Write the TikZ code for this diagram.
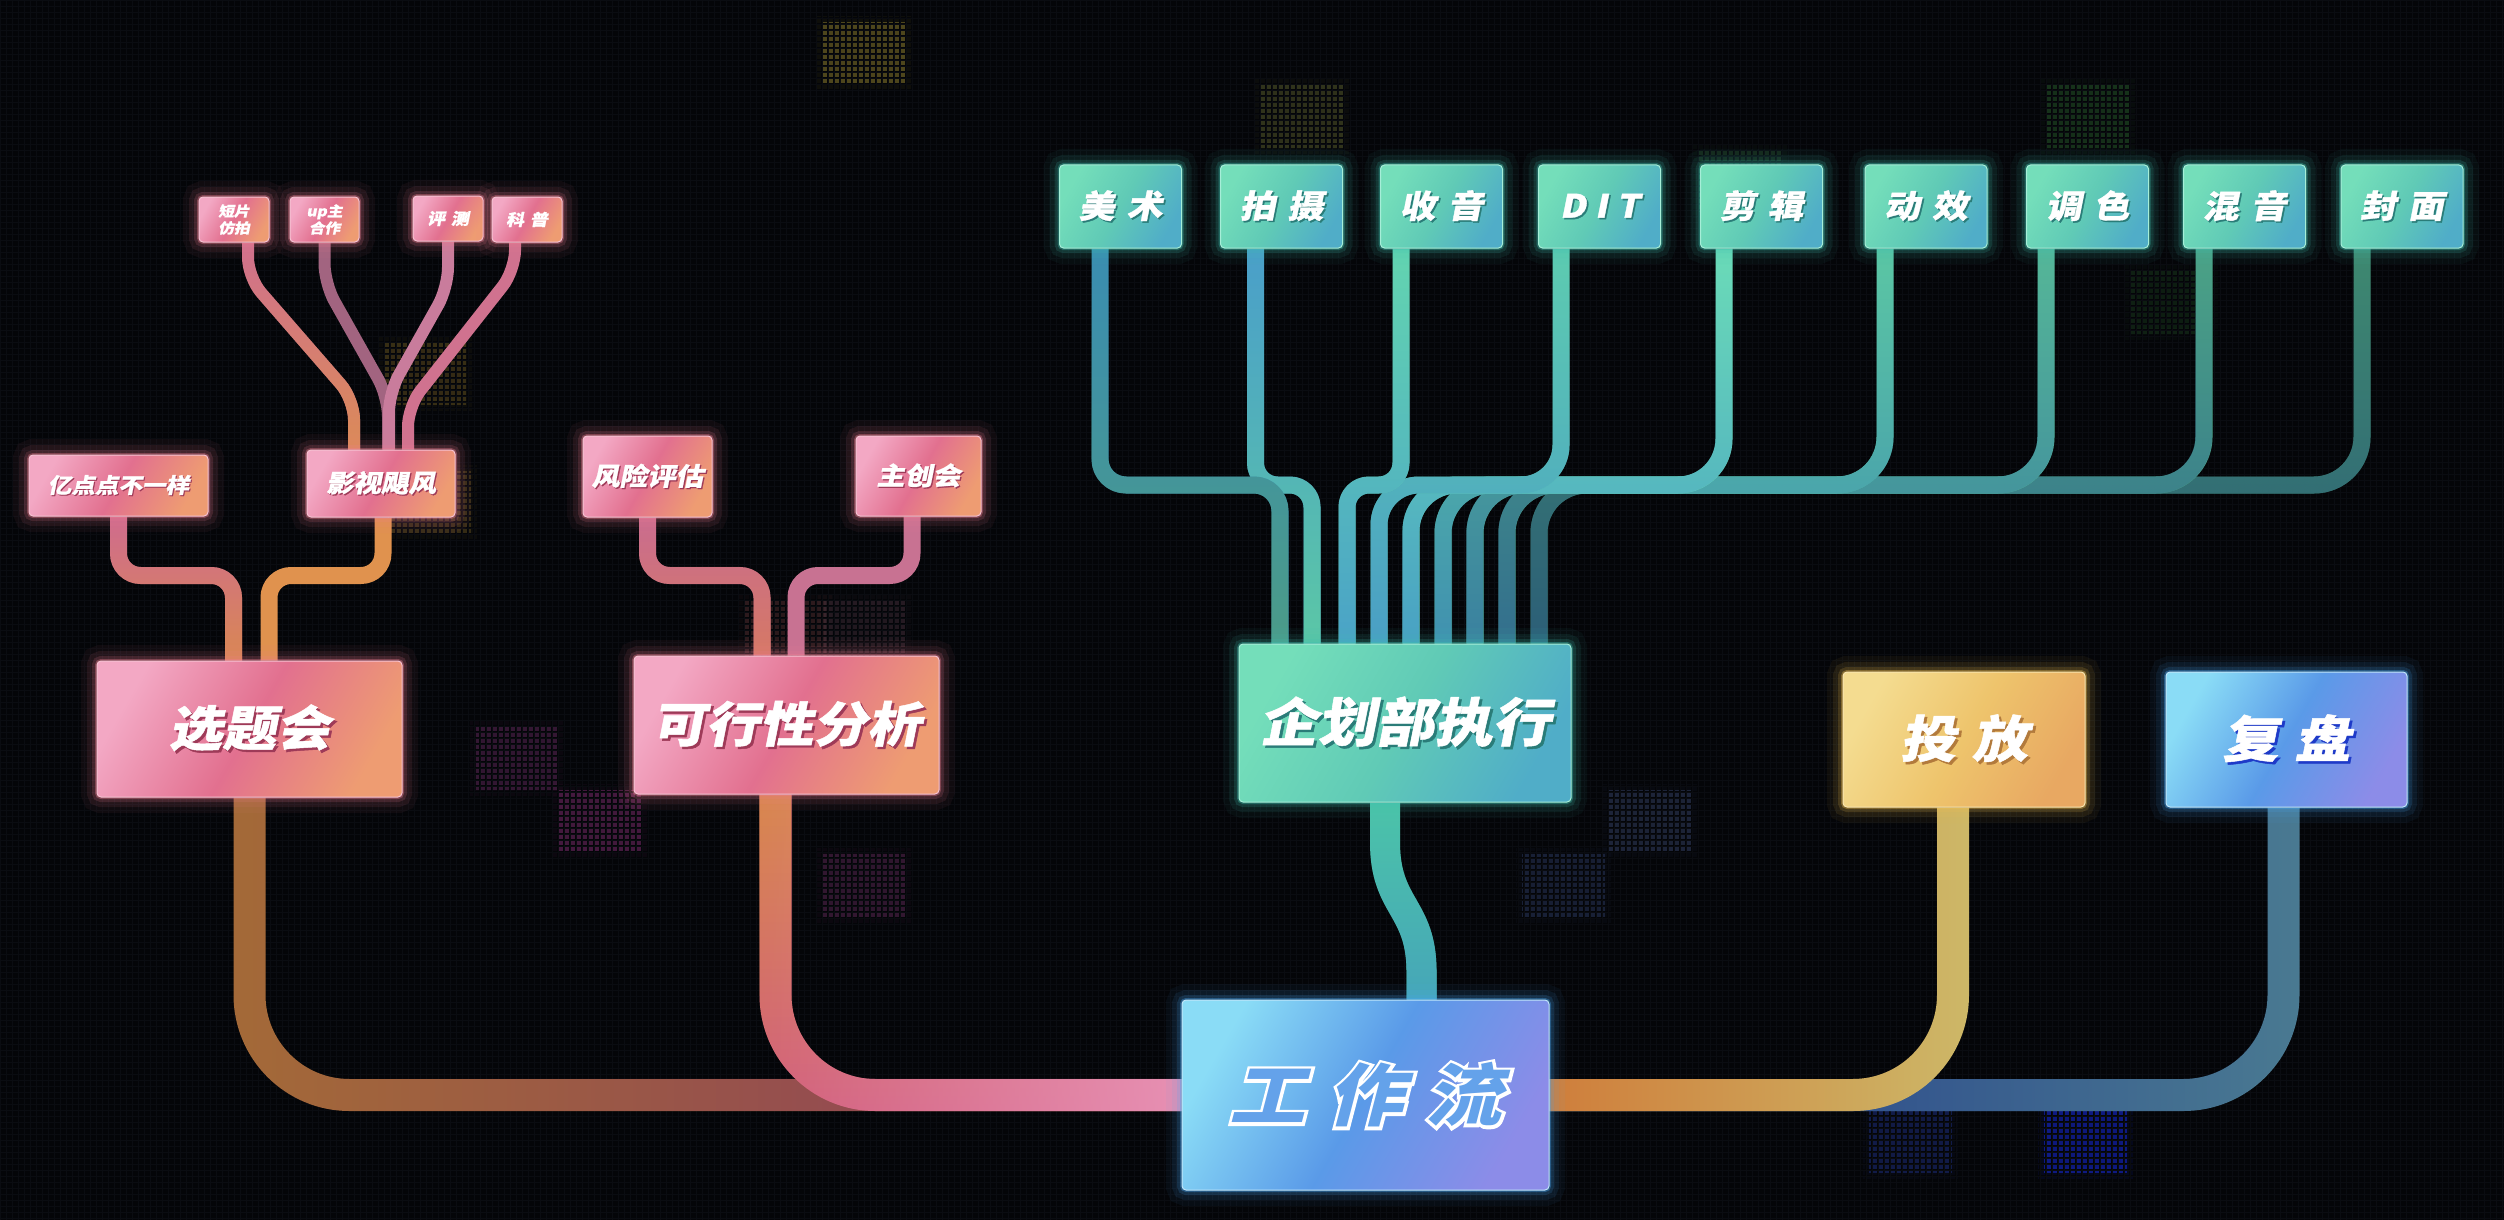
\documentclass[tikz,border=0pt]{standalone}
\usepackage{fontspec}
\usetikzlibrary{fadings}
\newfontfamily\cjk{Noto Sans CJK SC}[FakeSlant=0.2,FakeStretch=1.12,FakeBold=1]
\newfontfamily\cjkO{Noto Sans CJK SC}[FakeSlant=0.26,FakeStretch=1.12,FakeBold=9]
\newfontfamily\cjkI{Noto Sans CJK SC}[FakeSlant=0.26,FakeStretch=1.12]

\definecolor{bgc}{HTML}{040508}
\definecolor{gridc}{HTML}{0A0C11}
\definecolor{pkA}{HTML}{F3A8C4}
\definecolor{pkB}{HTML}{E2708F}
\definecolor{pkC}{HTML}{EE9C72}
\definecolor{pkE}{HTML}{F6C2D2}
\definecolor{pkG}{HTML}{F07E92}
\definecolor{pkS}{HTML}{9E3A58}
\definecolor{tlA}{HTML}{74DEBA}
\definecolor{tlB}{HTML}{60CAB6}
\definecolor{tlC}{HTML}{50ADC8}
\definecolor{tlE}{HTML}{A6EED8}
\definecolor{tlG}{HTML}{3FC2B2}
\definecolor{tlS}{HTML}{2A7C78}
\definecolor{ylA}{HTML}{F4DC90}
\definecolor{ylB}{HTML}{EEC46C}
\definecolor{ylC}{HTML}{E8A862}
\definecolor{ylE}{HTML}{FAE6B0}
\definecolor{ylG}{HTML}{F2C050}
\definecolor{ylS}{HTML}{B27A3C}
\definecolor{blA}{HTML}{8ADCF6}
\definecolor{blB}{HTML}{5A9AE8}
\definecolor{blC}{HTML}{8C8CE8}
\definecolor{blE}{HTML}{C0E6FA}
\definecolor{blG}{HTML}{48A8F4}
\definecolor{blS}{HTML}{1E3AC8}
\definecolor{gzIn}{HTML}{64A2EA}
% wires
\definecolor{wXtA}{HTML}{A46A38}
\definecolor{wXtB}{HTML}{8C3C5E}
\definecolor{wKxA}{HTML}{D2607C}
\definecolor{wKxT}{HTML}{D98A4C}
\definecolor{wKxR}{HTML}{E892B6}
\definecolor{wTfA}{HTML}{CDB868}
\definecolor{wTfL}{HTML}{D07C3A}
\definecolor{wFpA}{HTML}{4A7A92}
\definecolor{wFpL}{HTML}{22388A}
\definecolor{wQhA}{HTML}{4CC6A8}
\definecolor{wQhB}{HTML}{46A4BA}
\definecolor{wYdA}{HTML}{CF6A92}
\definecolor{wYdB}{HTML}{DA8A50}
\definecolor{wYs}{HTML}{E0924E}
\definecolor{wFxA}{HTML}{C96C92}
\definecolor{wFxB}{HTML}{D77A62}
\definecolor{wZc}{HTML}{C87292}
\definecolor{wDpA}{HTML}{D07090}
\definecolor{wDpB}{HTML}{DC8C56}
\definecolor{wUp}{HTML}{A26480}
\definecolor{wPc}{HTML}{C97C9C}
\definecolor{wKp}{HTML}{D0728F}
\definecolor{t1a}{HTML}{3A8DB2}\definecolor{t1b}{HTML}{4C9C88}
\definecolor{t2a}{HTML}{4A9ECB}\definecolor{t2b}{HTML}{5CC8A6}
\definecolor{t3a}{HTML}{64D6B0}\definecolor{t3b}{HTML}{4AA2C8}
\definecolor{t4a}{HTML}{5ECDB0}\definecolor{t4b}{HTML}{4A9EC6}
\definecolor{t5a}{HTML}{6CDDB8}\definecolor{t5b}{HTML}{48A0C4}
\definecolor{t6a}{HTML}{5CC8A4}\definecolor{t6b}{HTML}{4090B0}
\definecolor{t7a}{HTML}{56B898}\definecolor{t7b}{HTML}{3A80A0}
\definecolor{t8a}{HTML}{4CA486}\definecolor{t8b}{HTML}{336E8E}
\definecolor{t9a}{HTML}{3F8A70}\definecolor{t9b}{HTML}{2C5E78}

\pgfdeclarelayer{bglayer}
\pgfdeclarelayer{linelayer}
\pgfsetlayers{bglayer,linelayer,main}

\tikzfading[name=fadeinR, left color=transparent!100, right color=transparent!0]
\tikzfading[name=fadeinL, left color=transparent!0, right color=transparent!100]
\tikzfading[name=fadeinB, top color=transparent!100, bottom color=transparent!0]
\tikzfading[name=fadeinT, top color=transparent!0, bottom color=transparent!100]

\newcommand\shd[2]{\leavevmode\rlap{\kern0.05em\raisebox{-0.05em}{\textcolor{#1}{#2}}}#2}
\newcommand\fsz[1]{\fontsize{#1}{#1}\selectfont}
\newcommand\twire[6]{%
  \coordinate (tA) at ([xshift=#2pt]#1.south);
  \coordinate (tB) at ([xshift=#3pt]qh.north);
  \draw[wire=17pt, #4, rounded corners=#6pt] (tA) -- (tA |- bus) -| (tB);
  \draw[wire=17pt, #5, rounded corners=#6pt, path fading=fadeinB] (tA) -- (tA |- bus) -| (tB);
}

\begin{document}
\begin{tikzpicture}[x=1pt,y=-1pt,
  box/.style={rounded corners=4pt, inner sep=0pt, align=center, text=white, font=\cjk\bfseries, line width=1pt},
  glow/.style={preaction={draw=#1,draw opacity=0.05,line width=32pt},
               preaction={draw=#1,draw opacity=0.09,line width=20pt},
               preaction={draw=#1,draw opacity=0.16,line width=10pt},
               preaction={draw=#1,draw opacity=0.35,line width=4pt}},
  pinkbox/.style={box, glow=pkG, draw=pkE, left color=pkA, right color=pkC, middle color=pkB, shading angle=60},
  tealbox/.style={box, glow=tlG, draw=tlE, left color=tlA, right color=tlC, middle color=tlB, shading angle=60},
  yellowbox/.style={box, glow=ylG, draw=ylE, left color=ylA, right color=ylC, middle color=ylB, shading angle=60},
  bluebox/.style={box, glow=blG, draw=blE, left color=blA, right color=blC, middle color=blB, shading angle=60},
  wire/.style={line width=#1, line cap=butt, line join=round}
]
\useasboundingbox (0,0) rectangle (2504,1220);

\begin{pgfonlayer}{bglayer}
  \fill[bgc] (0,0) rectangle (2504,1220);
  \foreach \x/\y/\c/\o in {822/22/6A5E24/0.7, 1260/85/4A4E26/0.6, 2046/85/245228/0.55,
      1698/149/224428/0.45, 383/342/5C4A1E/0.55, 388/471/5C4A1E/0.5, 743/599/4A2A2C/0.55,
      824/599/46303C/0.45, 476/727/4A2048/0.65, 559/790/5C2252/0.7, 822/854/4C2248/0.6,
      1608/790/2A3450/0.65, 1522/854/243050/0.6, 1869/1110/182666/0.65, 2044/1110/1426C8/0.6,
      2129/271/1A3C1E/0.45} {
    \definecolor{sqc}{HTML}{\c}
    \fill[sqc, opacity=\o, preaction={draw=sqc, draw opacity=0.10, line width=12pt}] (\x,\y) rectangle ++(83,63);
  }
  \draw[bgc, line width=2.6pt] (0,0) grid[step=6pt] (2504,1220);
  \draw[gridc, line width=0.6pt, step=6pt] (0,0) grid[step=6pt] (2504,1220);
\end{pgfonlayer}

% ---------- nodes ----------
\node[pinkbox, minimum width=179pt, minimum height=61pt] (yd) at (118.5,485.5) {\fsz{21}\shd{pkS}{亿点点不一样}};
\node[pinkbox, minimum width=148pt, minimum height=67pt] (ys) at (381,483.5) {\fsz{24.5}\shd{pkS}{影视飓风}};
\node[pinkbox, minimum width=70pt, minimum height=45pt, font=\cjk\bfseries\fontsize{14}{17}\selectfont] (dp) at (234,219.5) {短片\\仿拍};
\node[pinkbox, minimum width=69pt, minimum height=45pt, font=\cjk\bfseries\fontsize{14}{17}\selectfont] (up) at (324.5,219.5) {up主\\合作};
\node[pinkbox, minimum width=70pt, minimum height=45pt] (pc) at (448,218.5) {\fsz{16}评\kern6pt测};
\node[pinkbox, minimum width=70pt, minimum height=45pt] (kp) at (527,219.5) {\fsz{16}科\kern6pt普};
\node[pinkbox, minimum width=129pt, minimum height=81pt] (fx) at (647.5,476.5) {\fsz{25}\shd{pkS}{风险评估}};
\node[pinkbox, minimum width=125pt, minimum height=80pt] (zc) at (918.5,476) {\fsz{25}\shd{pkS}{主创会}};
\node[pinkbox, minimum width=305pt, minimum height=136pt] (xt) at (249.5,729) {\fsz{48}\shd{pkS}{选题会}};
\node[pinkbox, minimum width=305pt, minimum height=138pt] (kx) at (786.5,725) {\fsz{48}\shd{pkS}{可行性分析}};
\node[tealbox, minimum width=332pt, minimum height=158pt] (qh) at (1405,723) {\fsz{52}\shd{tlS}{企划部执行}};
\node[yellowbox, minimum width=242pt, minimum height=135pt] (tf) at (1964,739.5) {\fsz{50}\shd{ylS}{投\kern16pt放}};
\node[bluebox, minimum width=241pt, minimum height=135pt] (fp) at (2286.5,739.5) {\fsz{50}\shd{blS}{复\kern16pt盘}};
\node[bluebox, minimum width=367pt, minimum height=190pt] (gzl) at (1365.5,1095)
  {\fsz{68}\rlap{\cjkO 工\kern22pt作\kern22pt流}\textcolor{gzIn}{\cjkI 工\kern22pt作\kern22pt流}};

\foreach \n/\cx/\t in {ms/1120.5/美\kern12pt术, ps/1281.5/拍\kern12pt摄, sy/1441.5/收\kern12pt音,
    dit/1599.5/D\kern9pt I\kern9pt T, jj/1761.5/剪\kern12pt辑, dx/1926/动\kern12pt效,
    ts/2087.5/调\kern12pt色, hy/2244.5/混\kern12pt音, fm/2402/封\kern12pt面} {
  \node[tealbox, minimum width=122pt, minimum height=83pt] (\n) at (\cx,206.5) {\fsz{32}\shd{tlS}{\t}};
}

% ---------- connectors ----------
\begin{pgfonlayer}{linelayer}
  \coordinate (bus) at (0,485);
  % 选题会 -> 工作流
  \draw[wire=32pt, wXtA, rounded corners=100pt] (xt.south) |- (gzl.west);
  \draw[wire=32pt, wXtB, rounded corners=100pt, path fading=fadeinR] (xt.south) |- (gzl.west);
  % 可行性分析 -> 工作流
  \draw[wire=32pt, wKxA, rounded corners=100pt] ([xshift=-11pt]kx.south) |- (gzl.west);
  \draw[wire=32pt, wKxT, rounded corners=100pt, path fading=fadeinT] ([xshift=-11pt]kx.south) |- (gzl.west);
  \draw[wire=32pt, wKxR, rounded corners=100pt, path fading=fadeinR] ([xshift=-11pt]kx.south) |- (gzl.west);
  % 工作流 -> 复盘
  \draw[wire=32pt, wFpA, rounded corners=100pt] (gzl.east) -| ([xshift=-3pt]fp.south);
  \draw[wire=32pt, wFpL, rounded corners=100pt, path fading=fadeinL] (gzl.east) -| ([xshift=-3pt]fp.south);
  % 工作流 -> 投放
  \draw[wire=32pt, wTfA, rounded corners=100pt] (gzl.east) -| ([xshift=-11pt]tf.south);
  \draw[wire=32pt, wTfL, rounded corners=100pt, path fading=fadeinL] (gzl.east) -| ([xshift=-11pt]tf.south);
  % 企划部执行 -> 工作流
  \draw[wire=30pt, wQhA] ([xshift=-20pt]qh.south) -- ++(0,40) .. controls +(0,65) and +(0,-65) .. ([xshift=56pt,yshift=28pt]gzl.north) -- ([xshift=56pt]gzl.north);
  \draw[wire=30pt, wQhB, path fading=fadeinB] ([xshift=-20pt]qh.south) -- ++(0,40) .. controls +(0,65) and +(0,-65) .. ([xshift=56pt,yshift=28pt]gzl.north) -- ([xshift=56pt]gzl.north);
  % top teal wires
  \twire{fm}{-40}{134}{t9a}{t9b}{48}
  \twire{hy}{-40.5}{102}{t8a}{t8b}{48}
  \twire{ts}{-41.5}{70}{t7a}{t7b}{48}
  \twire{dx}{-41}{38}{t6a}{t6b}{48}
  \twire{jj}{-37.5}{6}{t5a}{t5b}{46}
  \twire{dit}{-38.5}{-26}{t4a}{t4b}{40}
  \twire{sy}{-40.5}{-58}{t3a}{t3b}{22}
  \twire{ps}{-26}{-93}{t2a}{t2b}{22}
  \twire{ms}{-20.5}{-125}{t1a}{t1b}{26}
  % 选题会 upper
  \draw[wire=17pt, wYdA, rounded corners=22pt] (yd.south) -- ++(0,59) -| ([xshift=-16pt]xt.north);
  \draw[wire=17pt, wYdB, rounded corners=22pt, path fading=fadeinB] (yd.south) -- ++(0,59) -| ([xshift=-16pt]xt.north);
  \draw[wire=17pt, wYs, rounded corners=22pt] ([xshift=2pt]ys.south) -- ++(0,58) -| ([xshift=19.5pt]xt.north);
  % 可行性分析 upper
  \draw[wire=17pt, wFxA, rounded corners=22pt] (fx.south) -- ++(0,58) -| ([xshift=-24.5pt]kx.north);
  \draw[wire=17pt, wFxB, rounded corners=22pt, path fading=fadeinB] (fx.south) -- ++(0,58) -| ([xshift=-24.5pt]kx.north);
  \draw[wire=17pt, wZc, rounded corners=22pt] ([xshift=-6.5pt]zc.south) -- ++(0,59) -| ([xshift=9.5pt]kx.north);
  % 影视飓风 upper fan
  \draw[wire=12pt, wUp, rounded corners=20pt] (up.south) -- ++(0,41) -- ([xshift=7pt,yshift=53pt]ys.north) -- ([xshift=7pt]ys.north);
  \draw[wire=12pt, wPc, rounded corners=20pt] (pc.south) -- ++(0,46) -- ([xshift=8pt,yshift=57pt]ys.north) -- ([xshift=8pt]ys.north);
  \draw[wire=12pt, wKp, rounded corners=20pt] ([xshift=-12pt]kp.south) -- ++(0,28) -- ([xshift=27pt,yshift=43pt]ys.north) -- ([xshift=27pt]ys.north);
  \draw[wire=12pt, wDpA, rounded corners=20pt] ([xshift=14pt]dp.south) -- ++(0,35) -- ([xshift=-27pt,yshift=50pt]ys.north) -- ([xshift=-27pt]ys.north);
  \draw[wire=12pt, wDpB, rounded corners=20pt, path fading=fadeinB] ([xshift=14pt]dp.south) -- ++(0,35) -- ([xshift=-27pt,yshift=50pt]ys.north) -- ([xshift=-27pt]ys.north);
\end{pgfonlayer}
\end{tikzpicture}
\end{document}
